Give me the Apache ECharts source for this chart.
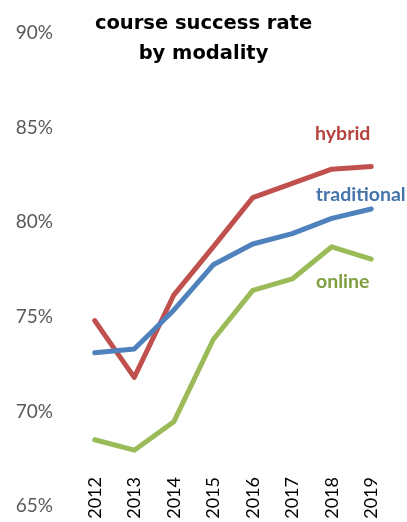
<!DOCTYPE html>
<html><head><meta charset="utf-8">
<script src="https://cdn.jsdelivr.net/npm/echarts@6/dist/echarts.min.js"></script>
<style>html,body{margin:0;padding:0;background:#fff}#c{width:407px;height:522px}</style>
</head><body><div id="c"></div>
<script>
const years = ['2012','2013','2014','2015','2016','2017','2018','2019'];
const hybrid = [74.8, 71.8, 76.15, 78.7, 81.3, 82.05, 82.8, 82.95];
const traditional = [73.1, 73.3, 75.35, 77.75, 78.85, 79.4, 80.2, 80.7];
const online = [68.5, 67.95, 69.45, 73.8, 76.4, 77.0, 78.7, 78.05];
const yTicks = [65, 70, 75, 80, 85, 90];

const chart = echarts.init(document.getElementById('c'));
function mk(name, data, color, textColor, offset) {
  return {
    name, type: 'line', data, symbol: 'circle', symbolSize: 0, showSymbol: true, smooth: false,
    lineStyle: { width: 5, color, cap: 'round', join: 'round' },
    itemStyle: { color },
    label: {
      show: true, position: 'inside', offset,
      formatter: p => p.dataIndex === 6 ? name : '',
      color: textColor, fontFamily: 'Lato, "Open Sans", sans-serif', fontWeight: 'bold', fontSize: 19.5
    }
  };
}
chart.setOption({
  animation: false,
  title: {
    text: 'course success rate\nby modality', left: 'center', top: 4,
    textStyle: { fontFamily: '"DejaVu Sans", sans-serif', fontWeight: 'bold', fontSize: 19.5, lineHeight: 30, color: '#000' }
  },
  grid: { left: 75, right: 16, top: 33, bottom: 16 },
  xAxis: {
    type: 'category', data: years, boundaryGap: true,
    axisLine: { show: false }, axisTick: { show: false },
    axisLabel: { rotate: 90, margin: -29, color: '#000', fontSize: 18, fontFamily: 'Lato, "Open Sans", sans-serif' }
  },
  yAxis: {
    type: 'value', min: 65, max: 90, interval: 5,
    axisLine: { show: false }, axisTick: { show: false }, splitLine: { show: false },
    axisLabel: { margin: 22, color: '#595959', fontSize: 19, fontFamily: 'Lato, "Open Sans", sans-serif',
      formatter: v => yTicks.includes(v) ? v + '%' : '' }
  },
  series: [
    mk('hybrid', hybrid, '#c0504d', '#b5423f', [11, -36]),
    mk('traditional', traditional, '#4f81bd', '#4575ab', [29, -24]),
    mk('online', online, '#9bbb59', '#7f9f3f', [11, 35])
  ]
});
</script></body></html>
